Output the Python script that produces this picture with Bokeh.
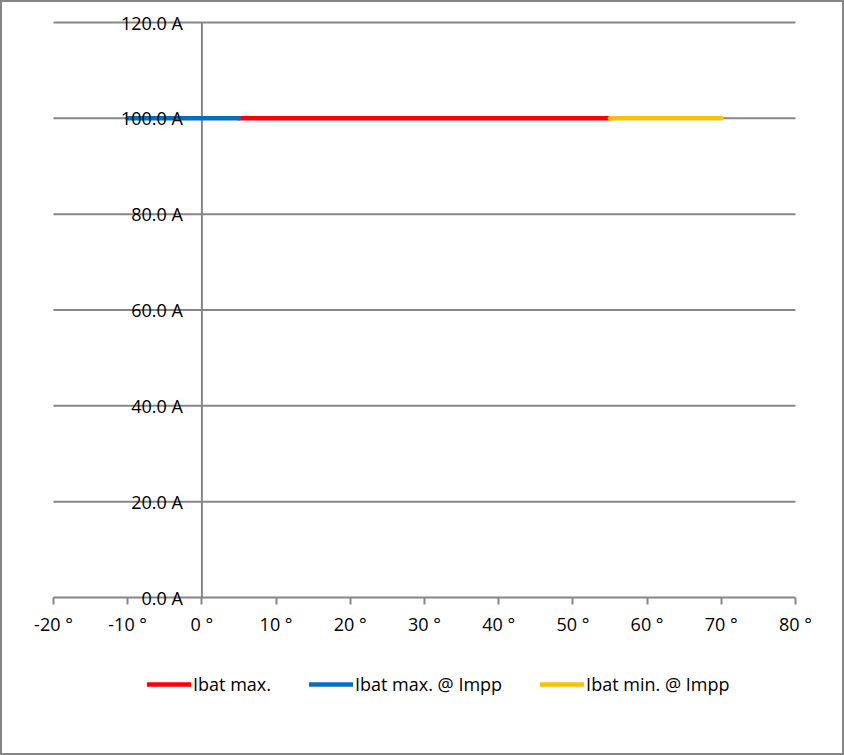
from bokeh.plotting import figure
from bokeh.models import (Range1d, FixedTicker, PrintfTickFormatter, Legend, LegendItem,
                          ColumnDataSource, LabelSet)
from bokeh.core.properties import value
from bokeh.embed import file_html
from bokeh.resources import INLINE

# Data (temperature in °C, battery current in A)
ibat_max_x = [5, 55]
ibat_max_y = [100, 100]
ibat_max_impp_x = [-10, 5]
ibat_max_impp_y = [100, 100]
ibat_min_impp_x = [55, 70]
ibat_min_impp_y = [100, 100]

x_ticks = [-20, -10, 0, 10, 20, 30, 40, 50, 60, 70, 80]
y_ticks = [0, 20, 40, 60, 80, 100, 120]
y_tick_labels = ["%.1f A" % v for v in y_ticks]

FONT = "Open Sans"
FS = "18px"
GRAY = "#868686"

# pixel layout: -20..80 spans 742 px, 0..120 A spans 575 px; the frame is padded
# so that axis labels and legend are drawn inside it (nothing gets clipped)
PX_X = 742 / (x_ticks[-1] - x_ticks[0])
PX_Y = 575 / (y_ticks[-1] - y_ticks[0])
x_lo = x_ticks[0] - 40 / PX_X
x_hi = x_ticks[-1] + 40 / PX_X
y_lo = y_ticks[0] - 148 / PX_Y
y_hi = y_ticks[-1] + 12 / PX_Y

p = figure(frame_width=822, frame_height=735, output_backend="svg", toolbar_location=None,
           x_range=Range1d(x_lo, x_hi), y_range=Range1d(y_lo, y_hi),
           min_border_left=11, min_border_right=7, min_border_top=8, min_border_bottom=8)
p.styles = {"border": "2px solid #868686"}
p.outline_line_color = None
p.background_fill_color = "white"
p.border_fill_color = "white"

p.xgrid.grid_line_color = None
p.ygrid.grid_line_color = None

# horizontal gridlines from -20 to 80 (the 0 A one is the x axis line)
n = len(y_ticks)
p.segment(x0=[x_ticks[0]] * n, y0=y_ticks, x1=[x_ticks[-1]] * n, y1=y_ticks,
          line_color=GRAY, line_width=2)
# vertical axis line at x = 0
p.segment(x0=[0], y0=[y_ticks[0]], x1=[0], y1=[y_ticks[-1]], line_color=GRAY, line_width=2)

# x axis crossing at 0 A (ticks + labels only)
p.xaxis.fixed_location = 0
p.xaxis.ticker = FixedTicker(ticks=x_ticks)
p.xaxis.formatter = PrintfTickFormatter(format="%d °")
p.xaxis.axis_line_color = None
p.xaxis.major_tick_line_color = GRAY
p.xaxis.major_tick_line_width = 2
p.xaxis.major_tick_out = 7
p.xaxis.major_tick_in = 0
p.xaxis.minor_tick_line_color = None
p.xaxis.major_label_text_font = FONT
p.xaxis.major_label_text_font_size = FS
p.xaxis.major_label_text_color = "black"
p.xaxis.major_label_standoff = 7

p.yaxis.visible = False

r1 = p.line(ibat_max_x, ibat_max_y, line_color="#FF0000", line_width=4.5, line_cap="round")
r2 = p.line(ibat_max_impp_x, ibat_max_impp_y, line_color="#0070C0", line_width=4.5, line_cap="round")
r3 = p.line(ibat_min_impp_x, ibat_min_impp_y, line_color="#FFC000", line_width=4.5, line_cap="round")

ylab_src = ColumnDataSource(dict(x=[0] * n, y=y_ticks, text=y_tick_labels))
ylabels = LabelSet(x="x", y="y", text="text", source=ylab_src, x_offset=-19,
                   text_align="right", text_baseline="middle", text_font=value(FONT),
                   text_font_size=value(FS), text_color="black")
p.add_layout(ylabels)

legend = Legend(items=[LegendItem(label="Ibat max.", renderers=[r1]),
                       LegendItem(label="Ibat max. @ Impp", renderers=[r2]),
                       LegendItem(label="Ibat min. @ Impp", renderers=[r3])],
                orientation="horizontal", location=(134, 49),
                glyph_width=44, glyph_height=20, label_standoff=2, spacing=38,
                padding=0, margin=0, border_line_color=None, background_fill_alpha=0,
                label_text_font=FONT, label_text_font_size=FS, label_text_color="black")
p.add_layout(legend, "center")

open("out.html", "w").write(file_html(p, INLINE))
